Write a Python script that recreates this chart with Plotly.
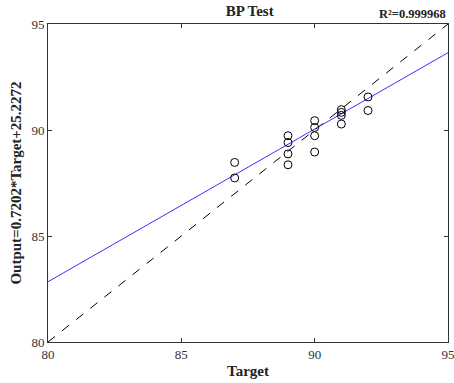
import plotly.graph_objects as go

target = [87, 87, 89, 89, 89, 89, 90, 90, 90, 90, 91, 91, 91, 91, 92, 92]
output = [88.47, 87.74, 89.73, 89.41, 88.87, 88.36, 90.44, 90.12, 89.73, 88.96,
          90.96, 90.83, 90.69, 90.28, 91.56, 90.92]
slope = 0.7202
intercept = 25.2272
r2 = "0.999968"
axis_range = [80, 95]
tick_vals = [80, 85, 90, 95]

font_family = "Liberation Serif, Times New Roman, serif"

fit_x = axis_range
fit_y = [slope * v + intercept for v in fit_x]

fig = go.Figure()
fig.add_trace(go.Scatter(x=axis_range, y=axis_range, mode="lines",
                         line=dict(color="black", width=1, dash="dash"),
                         showlegend=False, hoverinfo="skip"))
fig.add_trace(go.Scatter(x=fit_x, y=fit_y, mode="lines",
                         line=dict(color="#3333ff", width=1),
                         showlegend=False))
fig.add_trace(go.Scatter(x=target, y=output, mode="markers",
                         marker=dict(symbol="circle-open", size=8,
                                     color="black", line=dict(width=1, color="black")),
                         showlegend=False))

axis_common = dict(
    range=axis_range, tickvals=tick_vals, showgrid=False, zeroline=False,
    showline=True, linecolor="#333333", linewidth=1, mirror="ticks",
    ticks="inside", ticklen=4, tickcolor="#333333", ticklabeloverflow="allow",
    automargin=False,
    tickfont=dict(family=font_family, size=13, color="#333333"),
)
fig.update_xaxes(**axis_common,
                 title=dict(text="<b>Target</b>", standoff=4,
                            font=dict(family=font_family, size=15, color="#222222")))
fig.update_yaxes(**axis_common,
                 title=dict(text="<b>Output=0.7202*Target+25.2272</b>", standoff=6,
                            font=dict(family=font_family, size=15, color="#222222")))

fig.update_layout(
    width=454, height=383,
    margin=dict(l=48, r=6, t=24, b=41),
    plot_bgcolor="white", paper_bgcolor="white",
    title=dict(text="<b>BP Test</b>", x=0.55, xanchor="center", y=0.985, yanchor="top",
               font=dict(family=font_family, size=15, color="#222222")),
    annotations=[dict(text="<b>R²=" + r2 + "</b>", xref="paper", yref="paper",
                      x=1.0, y=1.0, xanchor="right", yanchor="bottom", yshift=1,
                      showarrow=False,
                      font=dict(family=font_family, size=12.5, color="#222222"))],
)

fig.write_html("out.html")
